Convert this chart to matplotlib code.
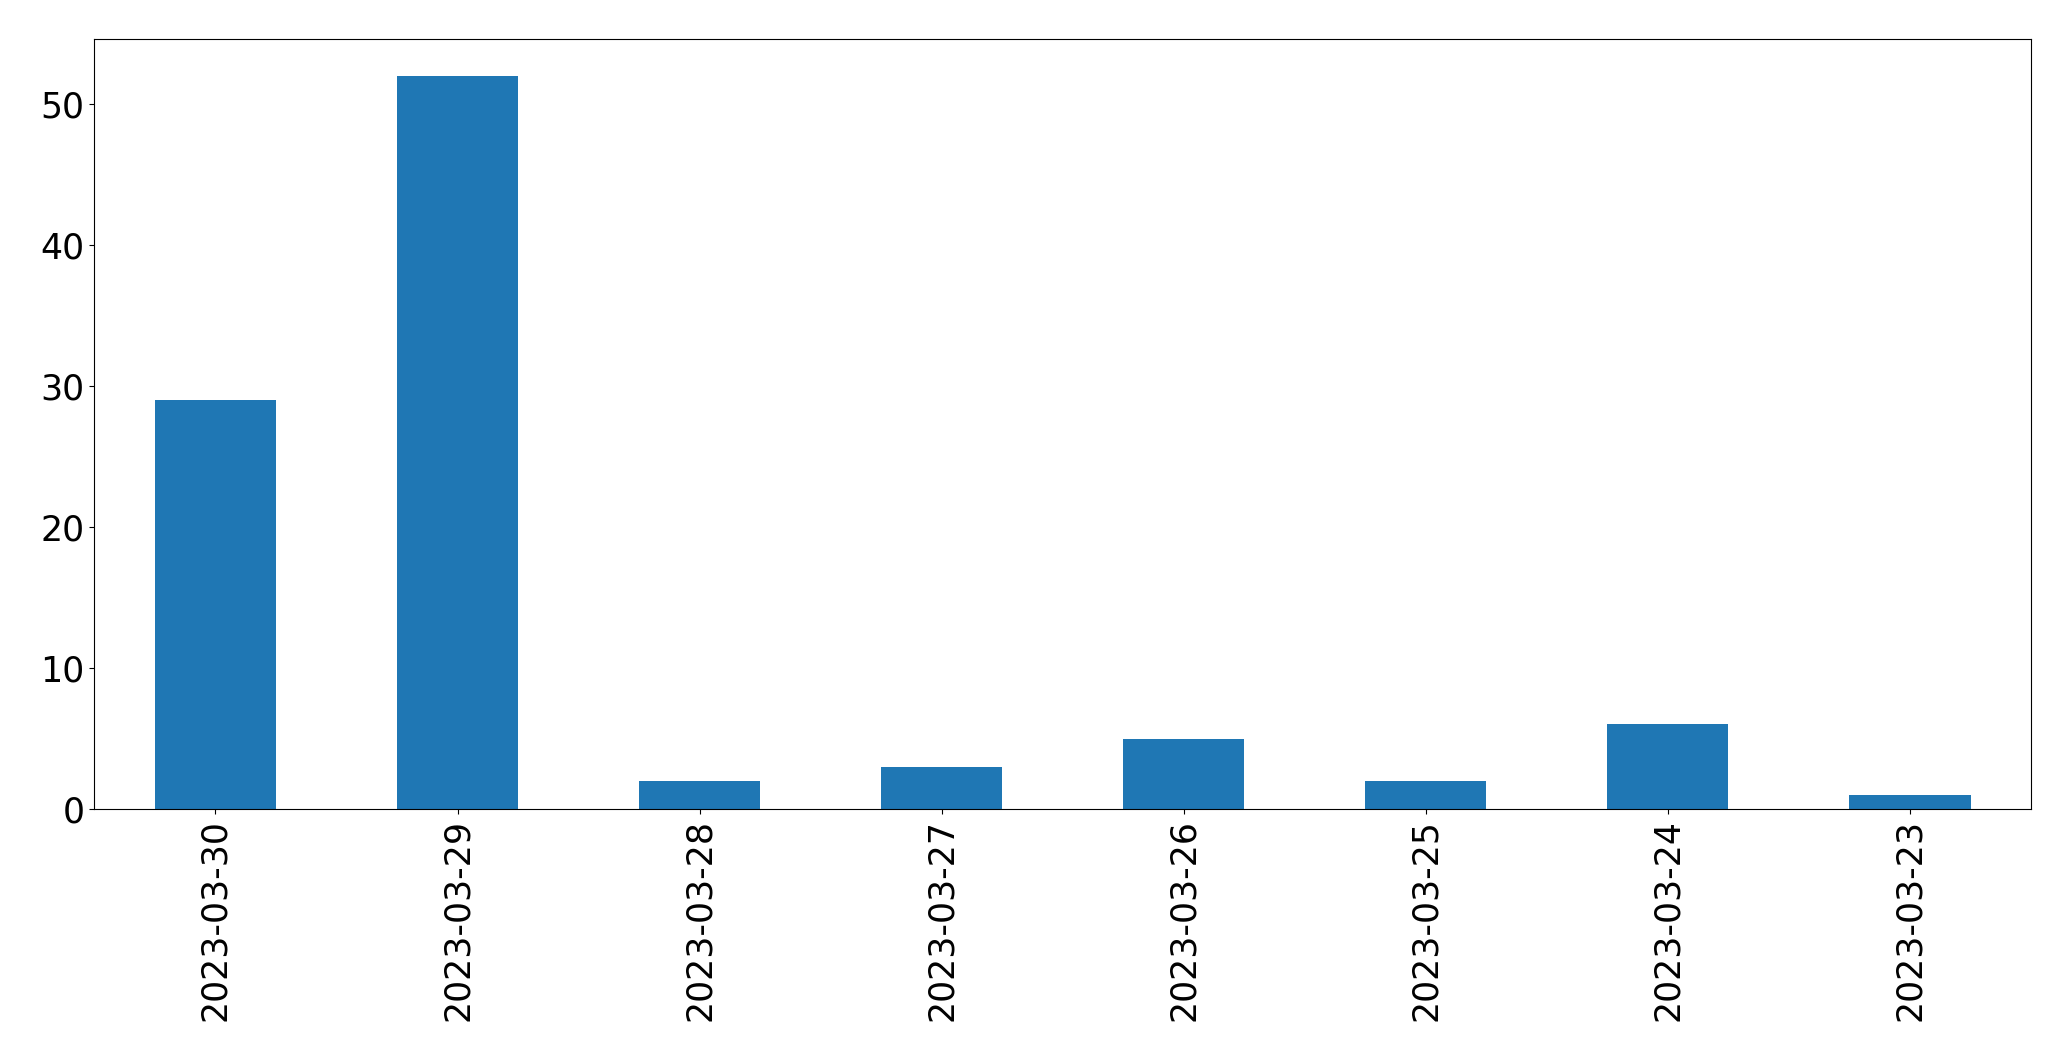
import matplotlib
matplotlib.use('Agg')
import matplotlib.pyplot as plt
import numpy as np

# daily counts, newest first
dates = ["2023-03-30", "2023-03-29", "2023-03-28", "2023-03-27",
         "2023-03-26", "2023-03-25", "2023-03-24", "2023-03-23"]
counts = [29, 52, 2, 3, 5, 2, 6, 1]

fig = plt.figure(figsize=(20.71, 10.61), dpi=100)
ax = fig.add_axes([0.0456, 0.2375, 0.9351, 0.7253])

x = np.arange(len(dates))
ax.bar(x, counts, width=0.5, color='#1f77b4', linewidth=0)
ax.set_xlim(-0.5, len(dates) - 0.5)
ax.set_xticks(x)
ax.set_xticklabels(dates, rotation=90)
ax.tick_params(axis='both', labelsize=25)

plt.savefig('out.png', dpi=100)
